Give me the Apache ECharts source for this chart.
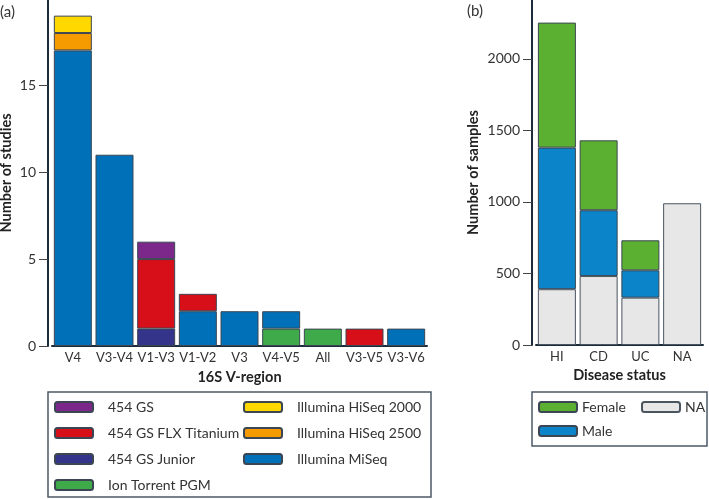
<!DOCTYPE html>
<html><head><meta charset="utf-8">
<script src="https://cdn.jsdelivr.net/npm/echarts@6/dist/echarts.min.js"></script>
<style>html,body{margin:0;padding:0;background:#fff}#c{width:709px;height:499px}</style>
</head><body><div id="c"></div>
<script>
// (a) Studies by 16S V-region and platform
const regions = ['V4','V3-V4','V1-V3','V1-V2','V3','V4-V5','All','V3-V5','V3-V6'];
const gsJunior   = [0,0,1,0,0,0,0,0,0];
const ionTorrent = [0,0,0,0,0,1,1,0,0];
const miSeq      = [17,11,0,2,2,1,0,0,1];
const flxTitan   = [0,0,4,1,0,0,0,1,0];
const gs454      = [0,0,1,0,0,0,0,0,0];
const hiSeq2500  = [1,0,0,0,0,0,0,0,0];
const hiSeq2000  = [1,0,0,0,0,0,0,0,0];
const studyTicks = [0,5,10,15];

// (b) Samples by disease status and sex
const diseases = ['HI','CD','UC','NA'];
const naSex   = [390,482,331,991];
const male    = [990,460,191,0];
const female  = [874,489,210,0];
const sampleTicks = [0,500,1000,1500,2000];

const FONT = 'Lato';
const AX = '#1d2c3b';
const BORDER = '#3b4652';
function z(a){return a.map(v=>v===0?null:v);}

function barA(name, data, color){
  return {name, type:'bar', stack:'a', xAxisIndex:0, yAxisIndex:0, data:z(data),
    barWidth:38, itemStyle:{color, borderColor:BORDER, borderWidth:1}};
}
function barB(name, data, color, bc){
  return {name, type:'bar', stack:'b', xAxisIndex:1, yAxisIndex:1, data:z(data),
    barWidth:38, itemStyle:{color, borderColor:bc||BORDER, borderWidth:1}};
}
const labelStyle = {color:'#333', fontFamily:FONT, fontSize:14};
const xLabelStyle = {color:'#333', fontFamily:FONT, fontSize:13};
const nameStyle = {color:'#222', fontFamily:FONT, fontSize:14.5, fontWeight:'bold'};
const legendTextA = {color:'#333', fontFamily:FONT, fontSize:14, lineHeight:16, padding:[0,0,0,10]};
const legendTextB = {color:'#333', fontFamily:FONT, fontSize:14, lineHeight:16};

const chart = echarts.init(document.getElementById('c'), null, {renderer:'canvas'});
chart.setOption({
  animation:false,
  grid:[
    {left:52, top:0, width:375, bottom:153, outerBoundsMode:'none'},
    {left:536, top:0, width:167, bottom:154, outerBoundsMode:'none'}
  ],
  xAxis:[
    {type:'category', gridIndex:0, data:regions,
     axisLine:{lineStyle:{color:AX,width:2}}, axisTick:{show:false},
     axisLabel:Object.assign({margin:5, interval:0}, xLabelStyle),
     name:'16S V-region', nameLocation:'middle', nameGap:24, nameTextStyle:nameStyle},
    {type:'category', gridIndex:1, data:diseases,
     axisLine:{lineStyle:{color:AX,width:2}}, axisTick:{show:false},
     axisLabel:Object.assign({margin:5, interval:0}, xLabelStyle),
     name:'Disease status', nameLocation:'middle', nameGap:23, nameTextStyle:nameStyle}
  ],
  yAxis:[
    {type:'value', gridIndex:0, min:0, max:19.9, interval:5, offset:4,
     splitLine:{show:false},
     axisLine:{show:true, lineStyle:{color:AX,width:2}},
     axisTick:{show:true, length:9, lineStyle:{color:'#444',width:1}, customValues:studyTicks},
     axisLabel:Object.assign({margin:12, customValues:studyTicks, formatter:v=>String(v)}, labelStyle),
     name:'Number of studies', nameLocation:'middle', nameGap:34, nameMoveOverlap:false, nameTextStyle:nameStyle},
    {type:'value', gridIndex:1, min:0, max:2412, interval:500, offset:4,
     splitLine:{show:false},
     axisLine:{show:true, lineStyle:{color:AX,width:2}},
     axisTick:{show:true, length:9, lineStyle:{color:'#444',width:1}, customValues:sampleTicks},
     axisLabel:Object.assign({margin:12, customValues:sampleTicks, formatter:v=>String(v)}, labelStyle),
     name:'Number of samples', nameLocation:'middle', nameGap:51, nameMoveOverlap:false, nameTextStyle:nameStyle}
  ],
  legend:[
    {orient:'vertical', left:54, top:399, padding:0, itemWidth:38, itemHeight:10, itemGap:10,
     textStyle:legendTextA, data:['454 GS','454 GS FLX Titanium','454 GS Junior','Ion Torrent PGM'], selectedMode:false},
    {orient:'vertical', left:243, top:399, padding:0, itemWidth:38, itemHeight:10, itemGap:10,
     textStyle:legendTextA, data:['Illumina HiSeq 2000','Illumina HiSeq 2500','Illumina MiSeq'], selectedMode:false},
    {orient:'vertical', left:538, top:399, padding:0, itemWidth:38, itemHeight:10, itemGap:8,
     textStyle:legendTextB, data:['Female','Male'], selectedMode:false},
    {orient:'vertical', left:641, top:399, padding:0, itemWidth:38, itemHeight:10, itemGap:8,
     textStyle:legendTextB, data:['NA'], selectedMode:false}
  ],
  graphic:[
    {type:'rect', shape:{x:48, y:392, width:383, height:105}, style:{fill:'none', stroke:'#4c5a68', lineWidth:1.5}, silent:true},
    {type:'rect', shape:{x:532, y:392, width:175, height:54}, style:{fill:'none', stroke:'#4c5a68', lineWidth:1.5}, silent:true},
    {type:'text', left:0, top:5, style:{text:'(a)', fill:'#333', font:'15px '+FONT}},
    {type:'text', left:467, top:4, style:{text:'(b)', fill:'#333', font:'15px '+FONT}}
  ],
  series:[
    barA('454 GS Junior', gsJunior, '#33348a'),
    barA('Ion Torrent PGM', ionTorrent, '#3faa49'),
    barA('Illumina MiSeq', miSeq, '#0070b9'),
    barA('454 GS FLX Titanium', flxTitan, '#d60f18'),
    barA('454 GS', gs454, '#7c288a'),
    barA('Illumina HiSeq 2500', hiSeq2500, '#f59b00'),
    barA('Illumina HiSeq 2000', hiSeq2000, '#ffd800'),
    barB('NA', naSex, '#e7e7e7', '#4a5560'),
    barB('Male', male, '#0b84c9'),
    barB('Female', female, '#5cb031')
  ]
});
</script></body></html>
